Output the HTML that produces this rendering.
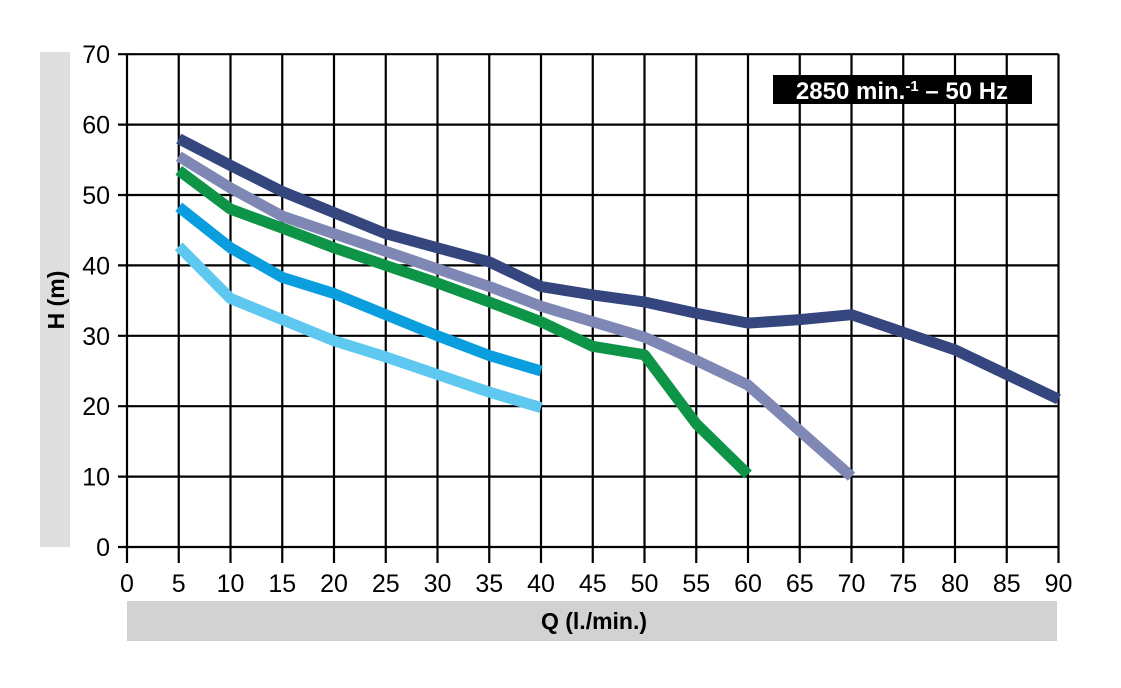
<!DOCTYPE html>
<html><head><meta charset="utf-8"><style>
body{margin:0;background:#fff;width:1121px;height:683px;overflow:hidden}
text{font-family:"Liberation Sans Narrow","Liberation Sans",sans-serif}
</style></head><body>
<svg id="s" width="1121" height="683" xmlns="http://www.w3.org/2000/svg"></svg>
<script>
const s=document.getElementById('s');
const X=v=>127+v*51.75/5, Y=v=>547-v*70.4/10;
let h='';
h+='<rect x="40" y="52" width="30" height="495" fill="#dedede"/>';
h+='<rect x="127" y="601" width="930" height="40" fill="#d2d2d2"/>';
for(let i=0;i<=18;i++){const x=X(i*5);h+=`<line x1="${x}" y1="54" x2="${x}" y2="563" stroke="#000" stroke-width="2.2"/>`;
h+=`<text x="${x}" y="592" font-size="25" text-anchor="middle" transform="scale(1,1)">${i*5}</text>`;}
for(let j=0;j<=7;j++){const y=Y(j*10);h+=`<line x1="118" y1="${y}" x2="${X(90)}" y2="${y}" stroke="#000" stroke-width="2.2"/>`;
h+=`<text x="110" y="${y+9}" font-size="25" text-anchor="end">${j*10}</text>`;}
h+='<rect x="773" y="75" width="259" height="29" fill="#000"/>';
h+='<text x="902" y="99" font-size="24" font-weight="bold" fill="#fff" text-anchor="middle">2850 min.<tspan font-size="15" dy="-8">-1</tspan><tspan dy="8"> – 50 Hz</tspan></text>';
h+='<text x="594" y="629" font-size="23" font-weight="bold" text-anchor="middle">Q (l./min.)</text>';
h+='<text transform="translate(64,300) rotate(-90)" font-size="23" font-weight="bold" text-anchor="middle">H (m)</text>';
const S=[
['#5ec8f0',[[5,42.7],[10,35.3],[15,32.3],[20,29.3],[25,27],[30,24.5],[35,22],[40,19.8]]],
['#0a9ede',[[5,48.3],[10,42.5],[15,38.3],[20,36],[25,33],[30,30],[35,27.2],[40,25]]],
['#0e9447',[[5,53.5],[10,48],[15,45.3],[20,42.5],[25,40],[30,37.5],[35,34.8],[40,32],[45,28.5],[50,27.3],[55,17.5],[60,10.3]]],
['#7f87b5',[[5,55.5],[10,51],[15,47],[20,44.5],[25,42],[30,39.5],[35,37],[40,34.2],[45,32],[50,29.8],[55,26.5],[60,23],[65,16.5],[70,10]]],
['#35467e',[[5,58],[10,54.2],[15,50.5],[20,47.5],[25,44.5],[30,42.5],[35,40.5],[40,37],[45,35.8],[50,34.8],[55,33.2],[60,31.8],[65,32.3],[70,33],[75,30.5],[80,28],[85,24.5],[90,21]]]];
for(const [c,p] of S){h+=`<polyline fill="none" stroke="${c}" stroke-width="11" stroke-linejoin="round" points="${p.map(q=>X(q[0])+','+Y(q[1])).join(' ')}"/>`;}
s.innerHTML=h;
</script>
</body></html>
